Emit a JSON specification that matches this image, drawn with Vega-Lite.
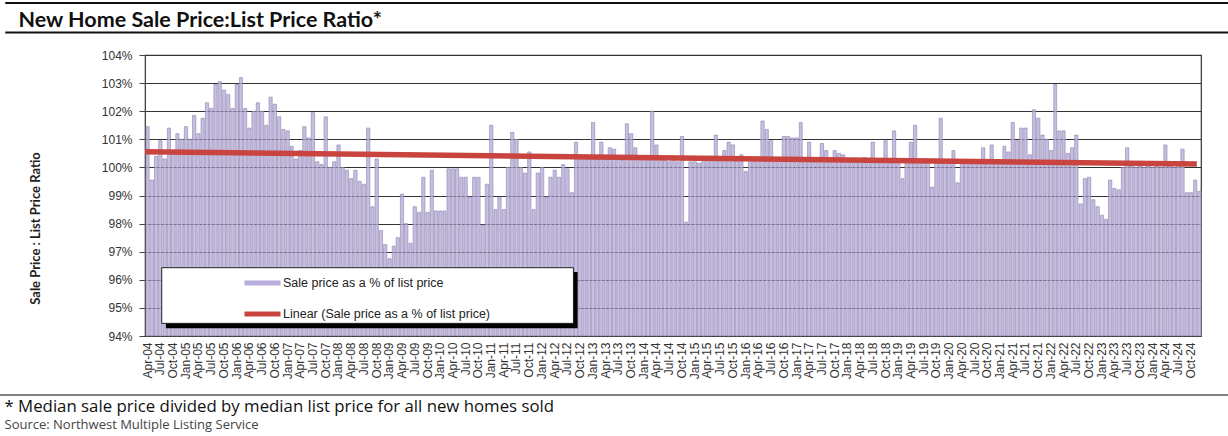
{
  "$schema": "https://vega.github.io/schema/vega-lite/v6.json",
  "width": 1056,
  "height": 281,
  "autosize": {"type": "none"},
  "padding": {"left": 145, "top": 55, "right": 27, "bottom": 100},
  "background": "white",
  "config": {
    "view": {"stroke": "#333333", "strokeWidth": 1.2},
    "axis": {"gridColor": "#333333", "gridWidth": 1}
  },
  "datasets": {
    "sales": [
      {"month": "2004-04-01", "ratio": 101.45}, {"month": "2004-05-01", "ratio": 99.55}, {"month": "2004-06-01", "ratio": 100.4},
      {"month": "2004-07-01", "ratio": 100.95}, {"month": "2004-08-01", "ratio": 100.3}, {"month": "2004-09-01", "ratio": 101.4},
      {"month": "2004-10-01", "ratio": 100.6}, {"month": "2004-11-01", "ratio": 101.2}, {"month": "2004-12-01", "ratio": 101.0},
      {"month": "2005-01-01", "ratio": 101.45}, {"month": "2005-02-01", "ratio": 101.0}, {"month": "2005-03-01", "ratio": 101.85},
      {"month": "2005-04-01", "ratio": 101.2}, {"month": "2005-05-01", "ratio": 101.75}, {"month": "2005-06-01", "ratio": 102.3},
      {"month": "2005-07-01", "ratio": 102.1}, {"month": "2005-08-01", "ratio": 102.95}, {"month": "2005-09-01", "ratio": 103.05},
      {"month": "2005-10-01", "ratio": 102.75}, {"month": "2005-11-01", "ratio": 102.6}, {"month": "2005-12-01", "ratio": 102.1},
      {"month": "2006-01-01", "ratio": 102.95}, {"month": "2006-02-01", "ratio": 103.2}, {"month": "2006-03-01", "ratio": 102.1},
      {"month": "2006-04-01", "ratio": 101.4}, {"month": "2006-05-01", "ratio": 102.0}, {"month": "2006-06-01", "ratio": 102.3},
      {"month": "2006-07-01", "ratio": 102.0}, {"month": "2006-08-01", "ratio": 101.5}, {"month": "2006-09-01", "ratio": 102.5},
      {"month": "2006-10-01", "ratio": 102.25}, {"month": "2006-11-01", "ratio": 101.8}, {"month": "2006-12-01", "ratio": 101.35},
      {"month": "2007-01-01", "ratio": 101.3}, {"month": "2007-02-01", "ratio": 100.75}, {"month": "2007-03-01", "ratio": 100.3},
      {"month": "2007-04-01", "ratio": 100.6}, {"month": "2007-05-01", "ratio": 101.45}, {"month": "2007-06-01", "ratio": 101.05},
      {"month": "2007-07-01", "ratio": 101.95}, {"month": "2007-08-01", "ratio": 100.2}, {"month": "2007-09-01", "ratio": 100.1},
      {"month": "2007-10-01", "ratio": 101.8}, {"month": "2007-11-01", "ratio": 100.0}, {"month": "2007-12-01", "ratio": 100.2},
      {"month": "2008-01-01", "ratio": 100.8}, {"month": "2008-02-01", "ratio": 100.0}, {"month": "2008-03-01", "ratio": 99.9},
      {"month": "2008-04-01", "ratio": 99.6}, {"month": "2008-05-01", "ratio": 99.9}, {"month": "2008-06-01", "ratio": 99.5},
      {"month": "2008-07-01", "ratio": 99.4}, {"month": "2008-08-01", "ratio": 101.4}, {"month": "2008-09-01", "ratio": 98.6},
      {"month": "2008-10-01", "ratio": 100.3}, {"month": "2008-11-01", "ratio": 97.75}, {"month": "2008-12-01", "ratio": 97.25},
      {"month": "2009-01-01", "ratio": 96.75}, {"month": "2009-02-01", "ratio": 97.2}, {"month": "2009-03-01", "ratio": 97.5},
      {"month": "2009-04-01", "ratio": 99.05}, {"month": "2009-05-01", "ratio": 98.0}, {"month": "2009-06-01", "ratio": 97.3},
      {"month": "2009-07-01", "ratio": 98.6}, {"month": "2009-08-01", "ratio": 98.4}, {"month": "2009-09-01", "ratio": 99.65},
      {"month": "2009-10-01", "ratio": 98.4}, {"month": "2009-11-01", "ratio": 99.9}, {"month": "2009-12-01", "ratio": 98.45},
      {"month": "2010-01-01", "ratio": 98.45}, {"month": "2010-02-01", "ratio": 98.45}, {"month": "2010-03-01", "ratio": 99.95},
      {"month": "2010-04-01", "ratio": 99.95}, {"month": "2010-05-01", "ratio": 99.95}, {"month": "2010-06-01", "ratio": 99.65},
      {"month": "2010-07-01", "ratio": 99.65}, {"month": "2010-08-01", "ratio": 98.95}, {"month": "2010-09-01", "ratio": 99.65},
      {"month": "2010-10-01", "ratio": 99.65}, {"month": "2010-11-01", "ratio": 97.95}, {"month": "2010-12-01", "ratio": 99.4},
      {"month": "2011-01-01", "ratio": 101.5}, {"month": "2011-02-01", "ratio": 98.5}, {"month": "2011-03-01", "ratio": 98.95},
      {"month": "2011-04-01", "ratio": 98.5}, {"month": "2011-05-01", "ratio": 100.0}, {"month": "2011-06-01", "ratio": 101.25},
      {"month": "2011-07-01", "ratio": 101.0}, {"month": "2011-08-01", "ratio": 100.0}, {"month": "2011-09-01", "ratio": 99.8},
      {"month": "2011-10-01", "ratio": 100.55}, {"month": "2011-11-01", "ratio": 98.5}, {"month": "2011-12-01", "ratio": 99.8},
      {"month": "2012-01-01", "ratio": 100.0}, {"month": "2012-02-01", "ratio": 98.95}, {"month": "2012-03-01", "ratio": 99.65},
      {"month": "2012-04-01", "ratio": 99.9}, {"month": "2012-05-01", "ratio": 99.65}, {"month": "2012-06-01", "ratio": 100.1},
      {"month": "2012-07-01", "ratio": 99.95}, {"month": "2012-08-01", "ratio": 99.1}, {"month": "2012-09-01", "ratio": 100.9},
      {"month": "2012-10-01", "ratio": 100.3}, {"month": "2012-11-01", "ratio": 100.35}, {"month": "2012-12-01", "ratio": 100.3},
      {"month": "2013-01-01", "ratio": 101.6}, {"month": "2013-02-01", "ratio": 100.3}, {"month": "2013-03-01", "ratio": 100.9},
      {"month": "2013-04-01", "ratio": 100.3}, {"month": "2013-05-01", "ratio": 100.7}, {"month": "2013-06-01", "ratio": 100.65},
      {"month": "2013-07-01", "ratio": 100.3}, {"month": "2013-08-01", "ratio": 100.25}, {"month": "2013-09-01", "ratio": 101.55},
      {"month": "2013-10-01", "ratio": 101.2}, {"month": "2013-11-01", "ratio": 100.7}, {"month": "2013-12-01", "ratio": 100.3},
      {"month": "2014-01-01", "ratio": 100.3}, {"month": "2014-02-01", "ratio": 100.25}, {"month": "2014-03-01", "ratio": 102.0},
      {"month": "2014-04-01", "ratio": 100.8}, {"month": "2014-05-01", "ratio": 100.3}, {"month": "2014-06-01", "ratio": 100.25},
      {"month": "2014-07-01", "ratio": 100.2}, {"month": "2014-08-01", "ratio": 100.3}, {"month": "2014-09-01", "ratio": 100.2},
      {"month": "2014-10-01", "ratio": 101.1}, {"month": "2014-11-01", "ratio": 98.05}, {"month": "2014-12-01", "ratio": 100.2},
      {"month": "2015-01-01", "ratio": 100.2}, {"month": "2015-02-01", "ratio": 100.15}, {"month": "2015-03-01", "ratio": 100.2},
      {"month": "2015-04-01", "ratio": 100.25}, {"month": "2015-05-01", "ratio": 100.3}, {"month": "2015-06-01", "ratio": 101.15},
      {"month": "2015-07-01", "ratio": 100.3}, {"month": "2015-08-01", "ratio": 100.6}, {"month": "2015-09-01", "ratio": 100.9},
      {"month": "2015-10-01", "ratio": 100.8}, {"month": "2015-11-01", "ratio": 100.3}, {"month": "2015-12-01", "ratio": 100.45},
      {"month": "2016-01-01", "ratio": 99.85}, {"month": "2016-02-01", "ratio": 100.25}, {"month": "2016-03-01", "ratio": 100.2},
      {"month": "2016-04-01", "ratio": 100.3}, {"month": "2016-05-01", "ratio": 101.65}, {"month": "2016-06-01", "ratio": 101.35},
      {"month": "2016-07-01", "ratio": 100.95}, {"month": "2016-08-01", "ratio": 100.3}, {"month": "2016-09-01", "ratio": 100.25},
      {"month": "2016-10-01", "ratio": 101.1}, {"month": "2016-11-01", "ratio": 101.1}, {"month": "2016-12-01", "ratio": 101.05},
      {"month": "2017-01-01", "ratio": 101.05}, {"month": "2017-02-01", "ratio": 101.6}, {"month": "2017-03-01", "ratio": 100.3},
      {"month": "2017-04-01", "ratio": 100.9}, {"month": "2017-05-01", "ratio": 100.3}, {"month": "2017-06-01", "ratio": 100.25},
      {"month": "2017-07-01", "ratio": 100.85}, {"month": "2017-08-01", "ratio": 100.6}, {"month": "2017-09-01", "ratio": 100.3},
      {"month": "2017-10-01", "ratio": 100.6}, {"month": "2017-11-01", "ratio": 100.5}, {"month": "2017-12-01", "ratio": 100.45},
      {"month": "2018-01-01", "ratio": 100.3}, {"month": "2018-02-01", "ratio": 100.25}, {"month": "2018-03-01", "ratio": 100.3},
      {"month": "2018-04-01", "ratio": 100.2}, {"month": "2018-05-01", "ratio": 100.35}, {"month": "2018-06-01", "ratio": 100.3},
      {"month": "2018-07-01", "ratio": 100.9}, {"month": "2018-08-01", "ratio": 100.2}, {"month": "2018-09-01", "ratio": 100.25},
      {"month": "2018-10-01", "ratio": 100.95}, {"month": "2018-11-01", "ratio": 100.2}, {"month": "2018-12-01", "ratio": 101.3},
      {"month": "2019-01-01", "ratio": 100.25}, {"month": "2019-02-01", "ratio": 99.6}, {"month": "2019-03-01", "ratio": 100.2},
      {"month": "2019-04-01", "ratio": 100.9}, {"month": "2019-05-01", "ratio": 101.5}, {"month": "2019-06-01", "ratio": 100.2},
      {"month": "2019-07-01", "ratio": 100.15}, {"month": "2019-08-01", "ratio": 100.2}, {"month": "2019-09-01", "ratio": 99.3},
      {"month": "2019-10-01", "ratio": 100.2}, {"month": "2019-11-01", "ratio": 101.75}, {"month": "2019-12-01", "ratio": 100.2},
      {"month": "2020-01-01", "ratio": 100.15}, {"month": "2020-02-01", "ratio": 100.6}, {"month": "2020-03-01", "ratio": 99.45},
      {"month": "2020-04-01", "ratio": 100.15}, {"month": "2020-05-01", "ratio": 100.2}, {"month": "2020-06-01", "ratio": 100.15},
      {"month": "2020-07-01", "ratio": 100.2}, {"month": "2020-08-01", "ratio": 100.15}, {"month": "2020-09-01", "ratio": 100.7},
      {"month": "2020-10-01", "ratio": 100.2}, {"month": "2020-11-01", "ratio": 100.8}, {"month": "2020-12-01", "ratio": 100.15},
      {"month": "2021-01-01", "ratio": 100.2}, {"month": "2021-02-01", "ratio": 100.75}, {"month": "2021-03-01", "ratio": 100.55},
      {"month": "2021-04-01", "ratio": 101.6}, {"month": "2021-05-01", "ratio": 100.95}, {"month": "2021-06-01", "ratio": 101.4},
      {"month": "2021-07-01", "ratio": 101.4}, {"month": "2021-08-01", "ratio": 100.45}, {"month": "2021-09-01", "ratio": 102.05},
      {"month": "2021-10-01", "ratio": 101.75}, {"month": "2021-11-01", "ratio": 101.15}, {"month": "2021-12-01", "ratio": 101.0},
      {"month": "2022-01-01", "ratio": 100.6}, {"month": "2022-02-01", "ratio": 102.95}, {"month": "2022-03-01", "ratio": 101.3},
      {"month": "2022-04-01", "ratio": 101.3}, {"month": "2022-05-01", "ratio": 100.5}, {"month": "2022-06-01", "ratio": 100.7},
      {"month": "2022-07-01", "ratio": 101.15}, {"month": "2022-08-01", "ratio": 98.7}, {"month": "2022-09-01", "ratio": 99.6},
      {"month": "2022-10-01", "ratio": 99.65}, {"month": "2022-11-01", "ratio": 98.85}, {"month": "2022-12-01", "ratio": 98.6},
      {"month": "2023-01-01", "ratio": 98.3}, {"month": "2023-02-01", "ratio": 98.15}, {"month": "2023-03-01", "ratio": 99.55},
      {"month": "2023-04-01", "ratio": 99.25}, {"month": "2023-05-01", "ratio": 99.2}, {"month": "2023-06-01", "ratio": 100.0},
      {"month": "2023-07-01", "ratio": 100.7}, {"month": "2023-08-01", "ratio": 100.05}, {"month": "2023-09-01", "ratio": 100.0},
      {"month": "2023-10-01", "ratio": 100.05}, {"month": "2023-11-01", "ratio": 100.0}, {"month": "2023-12-01", "ratio": 100.05},
      {"month": "2024-01-01", "ratio": 100.0}, {"month": "2024-02-01", "ratio": 100.05}, {"month": "2024-03-01", "ratio": 100.0},
      {"month": "2024-04-01", "ratio": 100.8}, {"month": "2024-05-01", "ratio": 100.05}, {"month": "2024-06-01", "ratio": 100.0},
      {"month": "2024-07-01", "ratio": 100.1}, {"month": "2024-08-01", "ratio": 100.65}, {"month": "2024-09-01", "ratio": 99.1},
      {"month": "2024-10-01", "ratio": 99.1}, {"month": "2024-11-01", "ratio": 99.55}, {"month": "2024-12-01", "ratio": 99.15}
    ],
    "trend": [
      {"month": "2004-04-01", "ratio": 100.56},
      {"month": "2024-12-01", "ratio": 100.12}
    ],
    "blank": [{}]
  },
  "layer": [
    {
      "data": {"name": "sales"},
      "mark": {"type": "bar", "timeUnitBandSize": 0.76, "stroke": "#8c83ab", "strokeWidth": 0.6, "fillOpacity": 0.8},
      "encoding": {
        "x": {
          "field": "month",
          "timeUnit": "utcyearmonth",
          "type": "temporal",
          "scale": {
            "type": "utc",
            "nice": false,
            "domain": [
              {"year": 2004, "month": 4, "date": 1, "utc": true},
              {"year": 2024, "month": 12, "date": 31, "utc": true}
            ]
          },
          "axis": {
            "orient": "bottom",
            "tickCount": {"interval": "month", "step": 3},
            "format": "%b-%y",
            "labelOffset": 2.1,
            "labelAngle": -90,
            "labelAlign": "right",
            "labelBaseline": "middle",
            "labelFont": "Liberation Sans",
            "labelFontSize": 12,
            "labelColor": "#333333",
            "labelPadding": 6,
            "labelOverlap": false,
            "labelFlush": false,
            "ticks": false,
            "domain": false,
            "grid": false,
            "title": "* Median sale price divided by median list price for all new homes sold",
            "titleFont": "Open Sans",
            "titleFontSize": 16.8,
            "titleFontWeight": "normal",
            "titleColor": "#111111",
            "titleAnchor": "start",
            "titleAlign": "left",
            "titleBaseline": "alphabetic",
            "titleX": -141,
            "titleY": 75
          }
        },
        "y": {
          "field": "ratio",
          "type": "quantitative",
          "scale": {"domain": [94, 104], "nice": false, "zero": false},
          "axis": {
            "orient": "left",
            "values": [94, 95, 96, 97, 98, 99, 100, 101, 102, 103, 104],
            "tickCount": 11,
            "labelExpr": "datum.value + '%'",
            "labelOverlap": false,
            "labelFont": "Liberation Sans",
            "labelFontSize": 12,
            "labelColor": "#333333",
            "labelPadding": 7,
            "tickSize": 6,
            "tickColor": "#444444",
            "domain": false,
            "grid": true,
            "title": "Sale Price : List Price Ratio",
            "titleFont": "Lato",
            "titleFontSize": 13,
            "titleFontWeight": "bold",
            "titleColor": "#222222",
            "titleAngle": -90,
            "titleAlign": "center",
            "titleBaseline": "middle",
            "titleX": -110,
            "titleY": 173
          }
        },
        "y2": {"datum": 94},
        "color": {
          "datum": "Sale price as a % of list price",
          "type": "nominal",
          "scale": {
            "domain": ["Sale price as a % of list price", "Linear (Sale price as a % of list price)"],
            "range": ["#b9aedb", "#c9443e"]
          },
          "legend": {
            "title": null,
            "orient": "none",
            "legendX": 97,
            "legendY": 207.5,
            "direction": "vertical",
            "padding": 0,
            "symbolType": "stroke",
            "symbolSize": 1296,
            "symbolStrokeWidth": 5,
            "symbolOpacity": 1,
            "labelFont": "Liberation Sans",
            "labelFontSize": 12.5,
            "labelColor": "#222222",
            "labelOffset": 0,
            "labelLimit": 0,
            "rowPadding": -13,
            "encode": {
              "symbols": {
                "update": {
                  "stroke": {"scale": "color", "field": "value"},
                  "strokeWidth": {"signal": "datum.value === 'Linear (Sale price as a % of list price)' ? 3.5 : 6"}
                }
              }
            }
          }
        }
      }
    },
    {
      "data": {"name": "trend"},
      "mark": {"type": "line", "strokeWidth": 5.5, "strokeCap": "butt", "timeUnitBandPosition": 0.5},
      "encoding": {
        "x": {
          "field": "month",
          "timeUnit": "utcyearmonth",
          "type": "temporal",
          "axis": {
            "orient": "top",
            "labels": false,
            "ticks": false,
            "domain": false,
            "grid": false,
            "title": "New Home Sale Price:List Price Ratio*",
            "titleFont": "Lato",
            "titleFontSize": 21.5,
            "titleFontWeight": "bold",
            "titleColor": "#111111",
            "titleAnchor": "start",
            "titleAlign": "left",
            "titleBaseline": "alphabetic",
            "titleX": -127,
            "titleY": -28.5
          }
        },
        "y": {
          "field": "ratio",
          "type": "quantitative",
          "axis": {
            "orient": "right",
            "labels": false,
            "ticks": false,
            "domain": false,
            "grid": false,
            "title": "Source: Northwest Multiple Listing Service",
            "titleFont": "Open Sans",
            "titleFontSize": 13,
            "titleFontWeight": "normal",
            "titleColor": "#444444",
            "titleAngle": 0,
            "titleAnchor": "start",
            "titleAlign": "left",
            "titleBaseline": "alphabetic",
            "titleX": -1197,
            "titleY": 373
          }
        },
        "color": {"datum": "Linear (Sale price as a % of list price)", "type": "nominal"}
      }
    },
    {
      "data": {"name": "blank"},
      "mark": {"type": "rect", "fill": "#000000"},
      "encoding": {
        "x": {"datum": {"year": 2004, "month": 8, "date": 29, "utc": true}, "type": "temporal", "axis": null},
        "x2": {"datum": {"year": 2012, "month": 10, "date": 1, "utc": true}},
        "y": {"datum": 96.28, "type": "quantitative", "axis": null},
        "y2": {"datum": 94.28}
      }
    },
    {
      "data": {"name": "blank"},
      "mark": {"type": "rect", "fill": "#ffffff", "stroke": "#222222", "strokeWidth": 1},
      "encoding": {
        "x": {"datum": {"year": 2004, "month": 7, "date": 30, "utc": true}, "type": "temporal", "axis": null},
        "x2": {"datum": {"year": 2012, "month": 9, "date": 1, "utc": true}},
        "y": {"datum": 96.43, "type": "quantitative", "axis": null},
        "y2": {"datum": 94.45}
      }
    },
    {
      "data": {"name": "blank"},
      "mark": {"type": "rule", "color": "#111111", "strokeWidth": 2.2},
      "encoding": {
        "x": {"datum": {"year": 2001, "month": 7, "date": 3, "utc": true}, "type": "temporal", "axis": null},
        "x2": {"datum": {"year": 2025, "month": 7, "date": 15, "utc": true}},
        "y": {"datum": 105.85, "type": "quantitative", "axis": null}
      }
    },
    {
      "data": {"name": "blank"},
      "mark": {"type": "rule", "color": "#111111", "strokeWidth": 2.2},
      "encoding": {
        "x": {"datum": {"year": 2001, "month": 7, "date": 3, "utc": true}, "type": "temporal", "axis": null},
        "x2": {"datum": {"year": 2025, "month": 7, "date": 15, "utc": true}},
        "y": {"datum": 104.8, "type": "quantitative", "axis": null}
      }
    },
    {
      "data": {"name": "blank"},
      "mark": {"type": "rule", "color": "#555555", "strokeWidth": 1.5},
      "encoding": {
        "x": {"datum": {"year": 2001, "month": 5, "date": 25, "utc": true}, "type": "temporal", "axis": null},
        "x2": {"datum": {"year": 2025, "month": 7, "date": 15, "utc": true}},
        "y": {"datum": 91.9, "type": "quantitative", "axis": null}
      }
    }
  ],
  "resolve": {"axis": {"x": "independent", "y": "independent"}}
}
